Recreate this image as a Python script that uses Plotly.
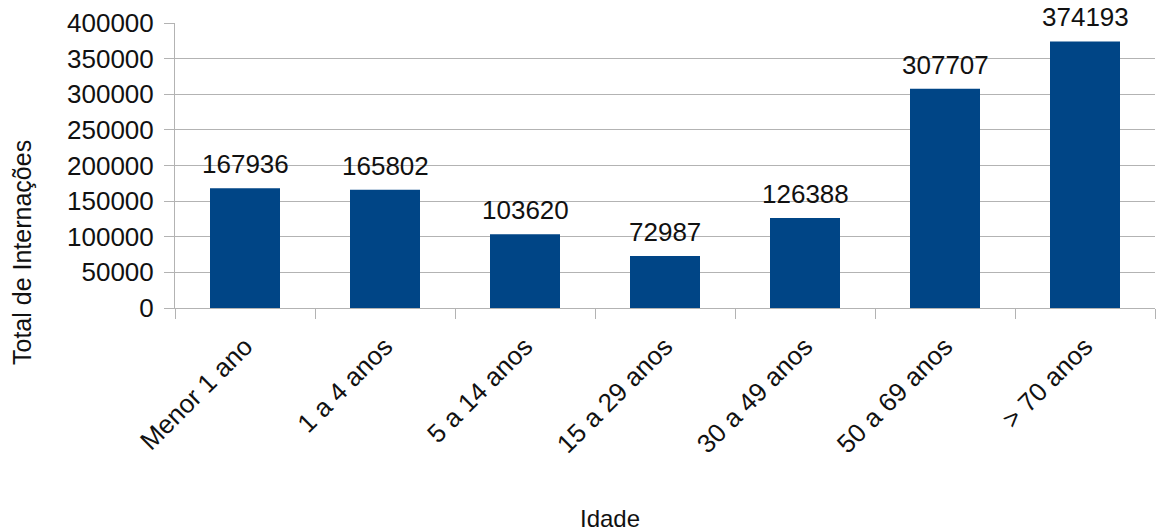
import plotly.graph_objects as go

categories = ["Menor 1 ano", "1 a 4 anos", "5 a 14 anos", "15 a 29 anos",
              "30 a 49 anos", "50 a 69 anos", "> 70 anos"]
values = [167936, 165802, 103620, 72987, 126388, 307707, 374193]
y_ticks = [0, 50000, 100000, 150000, 200000, 250000, 300000, 350000, 400000]

FONT = "Liberation Sans, Arial, sans-serif"
GRID = "#b3b3b3"
TXT = "#111111"

fig = go.Figure(go.Bar(
    x=categories, y=values,
    marker=dict(color="#004586", line=dict(color="#004586", width=0)),
    cliponaxis=False,
))

for c, v in zip(categories, values):
    fig.add_annotation(x=c, y=v, xref="x", yref="y", text=str(v),
                       showarrow=False, yanchor="bottom", yshift=7,
                       font=dict(family=FONT, size=26, color=TXT))

# axis titles (placed like the original, centred on the whole chart block)
fig.add_annotation(text="Total de Internações", xref="paper", yref="paper",
                   x=-0.1561, y=0.193, xanchor="center", yanchor="middle",
                   textangle=-90, showarrow=False,
                   font=dict(family=FONT, size=25, color=TXT))
fig.add_annotation(text="Idade", xref="paper", yref="paper",
                   x=0.4439, y=-0.740, xanchor="center", yanchor="middle",
                   showarrow=False,
                   font=dict(family=FONT, size=24, color=TXT))

fig.update_layout(
    width=1156, height=532,
    margin=dict(l=175, r=1, t=23, b=224),
    paper_bgcolor="white", plot_bgcolor="white",
    bargap=0.5, showlegend=False,
    font=dict(family=FONT, color=TXT),
)
fig.update_yaxes(
    range=[0, 400000], tickvals=y_ticks, ticktext=[str(t) for t in y_ticks],
    showgrid=True, gridcolor=GRID, gridwidth=1,
    showline=True, linecolor=GRID, linewidth=1,
    ticks="outside", ticklen=10, tickcolor=GRID,
    tickfont=dict(family=FONT, size=26, color=TXT),
    ticklabelstandoff=5,
    zeroline=False,
)
fig.update_xaxes(
    showline=True, linecolor=GRID, linewidth=1,
    ticks="outside", ticklen=10, tickcolor=GRID, tickson="boundaries",
    tickangle=-45, ticklabelstandoff=12,
    tickfont=dict(family=FONT, size=26, color=TXT),
)

fig.write_html("out.html")
